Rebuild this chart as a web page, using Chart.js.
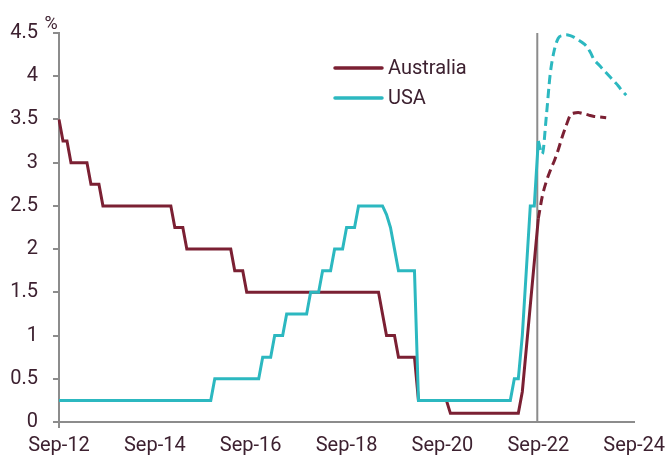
<!DOCTYPE html>
<html>
<head>
<meta charset="utf-8">
<script src="https://cdn.jsdelivr.net/npm/chart.js@4.4.1/dist/chart.umd.min.js"></script>
<style>
  html, body { margin: 0; padding: 0; background: #ffffff; }
  #wrap { width: 671px; height: 459px; }
</style>
</head>
<body>
<div id="wrap"><canvas id="chart" width="671" height="459"></canvas></div>
<script>
// Policy rates, monthly, Sep-12 onwards (per cent)
const monthNames = ['Jan','Feb','Mar','Apr','May','Jun','Jul','Aug','Sep','Oct','Nov','Dec'];
const firstYear = 2012, firstMonth = 8, monthCount = 145; // Sep-12 .. Sep-24
const months = [];
for (let i = 0; i < monthCount; i++) {
  const m = (firstMonth + i) % 12;
  const y = firstYear + Math.floor((firstMonth + i) / 12);
  months.push(monthNames[m] + '-' + String(y).slice(2));
}

const tickLabels = ['Sep-12', 'Sep-14', 'Sep-16', 'Sep-18', 'Sep-20', 'Sep-22', 'Sep-24'];
const forecastStart = 'Sep-22';

// Australia: RBA cash rate, Sep-12 .. Sep-22
const ausCashRate = [
  3.5, 3.25, 3.25, 3,                                        // 2012 (Sep-Dec)
  3, 3, 3, 3, 2.75, 2.75, 2.75, 2.5, 2.5, 2.5, 2.5, 2.5,     // 2013
  2.5, 2.5, 2.5, 2.5, 2.5, 2.5, 2.5, 2.5, 2.5, 2.5, 2.5, 2.5, // 2014
  2.5, 2.25, 2.25, 2.25, 2, 2, 2, 2, 2, 2, 2, 2,             // 2015
  2, 2, 2, 2, 1.75, 1.75, 1.75, 1.5, 1.5, 1.5, 1.5, 1.5,     // 2016
  1.5, 1.5, 1.5, 1.5, 1.5, 1.5, 1.5, 1.5, 1.5, 1.5, 1.5, 1.5, // 2017
  1.5, 1.5, 1.5, 1.5, 1.5, 1.5, 1.5, 1.5, 1.5, 1.5, 1.5, 1.5, // 2018
  1.5, 1.5, 1.5, 1.5, 1.5, 1.25, 1, 1, 1, 0.75, 0.75, 0.75,  // 2019
  0.75, 0.75, 0.25, 0.25, 0.25, 0.25, 0.25, 0.25, 0.25, 0.25, 0.1, 0.1, // 2020
  0.1, 0.1, 0.1, 0.1, 0.1, 0.1, 0.1, 0.1, 0.1, 0.1, 0.1, 0.1, // 2021
  0.1, 0.1, 0.1, 0.1, 0.35, 0.85, 1.35, 1.85, 2.35           // 2022 (Jan-Sep)
];

// USA: federal funds target (upper bound), Sep-12 .. Sep-22
const usFedFunds = [
  0.25, 0.25, 0.25, 0.25,                                                  // 2012 (Sep-Dec)
  0.25, 0.25, 0.25, 0.25, 0.25, 0.25, 0.25, 0.25, 0.25, 0.25, 0.25, 0.25,  // 2013
  0.25, 0.25, 0.25, 0.25, 0.25, 0.25, 0.25, 0.25, 0.25, 0.25, 0.25, 0.25,  // 2014
  0.25, 0.25, 0.25, 0.25, 0.25, 0.25, 0.25, 0.25, 0.25, 0.25, 0.25, 0.5,   // 2015
  0.5, 0.5, 0.5, 0.5, 0.5, 0.5, 0.5, 0.5, 0.5, 0.5, 0.5, 0.75,             // 2016
  0.75, 0.75, 1, 1, 1, 1.25, 1.25, 1.25, 1.25, 1.25, 1.25, 1.5,            // 2017
  1.5, 1.5, 1.75, 1.75, 1.75, 2, 2, 2, 2.25, 2.25, 2.25, 2.5,              // 2018
  2.5, 2.5, 2.5, 2.5, 2.5, 2.5, 2.4, 2.25, 2, 1.75, 1.75, 1.75,            // 2019
  1.75, 1.75, 0.25, 0.25, 0.25, 0.25, 0.25, 0.25, 0.25, 0.25, 0.25, 0.25,  // 2020
  0.25, 0.25, 0.25, 0.25, 0.25, 0.25, 0.25, 0.25, 0.25, 0.25, 0.25, 0.25,  // 2021
  0.25, 0.25, 0.5, 0.5, 1, 1.75, 2.5, 2.5, 3.25                            // 2022 (Jan-Sep)
];

// Market-implied paths, monthly from Sep-22
const ausForecast = [
  2.35, 2.61, 2.78, 2.91, 3.02, 3.15, 3.3, 3.43, 3.55,
  3.575, 3.58, 3.57, 3.56, 3.545, 3.535, 3.53, 3.525, 3.52
];
const usForecast = [
  3.25, 3.1, 3.53, 4.03, 4.3, 4.44, 4.47, 4.48, 4.47, 4.45, 4.42, 4.39,
  4.35, 4.28, 4.19, 4.14, 4.09, 4.04, 3.99, 3.94, 3.89, 3.83, 3.78
];

const MAROON = '#7b2033';
const TEAL = '#2cb8c0';
const AXIS = '#8c8c8c';
const TEXT = '#3d2130';
const FONT = 'Roboto, "Liberation Sans", sans-serif';

const startIdx = months.indexOf(forecastStart);
const lead = new Array(startIdx).fill(null);

// Vertical marker at the forecast start, drawn under the lines
const markerLine = {
  id: 'markerLine',
  beforeDatasetsDraw(chart) {
    const { ctx, chartArea, scales } = chart;
    const x = scales.x.getPixelForValue(startIdx);
    ctx.save();
    ctx.strokeStyle = AXIS;
    ctx.lineWidth = 2;
    ctx.beginPath();
    ctx.moveTo(x - 1, chartArea.top);
    ctx.lineTo(x - 1, chartArea.bottom);
    ctx.stroke();
    ctx.restore();
  }
};

// Unit label and the two-entry key
const annotations = {
  id: 'annotations',
  afterDraw(chart) {
    const { ctx, chartArea } = chart;
    ctx.save();
    ctx.fillStyle = TEXT;
    ctx.font = '18px ' + FONT;
    ctx.textAlign = 'center';
    ctx.textBaseline = 'middle';
    ctx.fillText('%', chartArea.left - 8, chartArea.top - 9);

    const keys = [
      { label: 'Australia', color: MAROON, y: 68 },
      { label: 'USA', color: TEAL, y: 98 }
    ];
    ctx.font = '20px ' + FONT;
    ctx.textAlign = 'left';
    keys.forEach(k => {
      ctx.strokeStyle = k.color;
      ctx.lineWidth = 3.5;
      ctx.lineCap = 'round';
      ctx.beginPath();
      ctx.moveTo(335, k.y);
      ctx.lineTo(382, k.y);
      ctx.stroke();
      ctx.fillStyle = TEXT;
      ctx.fillText(k.label, 388, k.y + 1);
    });
    ctx.restore();
  }
};

new Chart(document.getElementById('chart'), {
  type: 'line',
  data: {
    labels: months,
    datasets: [
      {
        label: 'USA',
        data: usFedFunds,
        borderColor: TEAL,
        borderWidth: 3,
        pointRadius: 0,
        tension: 0,
        order: 0
      },
      {
        label: 'USA forecast',
        data: lead.concat(usForecast),
        borderColor: TEAL,
        borderWidth: 3,
        borderDash: [9, 5],
        pointRadius: 0,
        cubicInterpolationMode: 'monotone',
        order: 1
      },
      {
        label: 'Australia',
        data: ausCashRate,
        borderColor: MAROON,
        borderWidth: 3,
        pointRadius: 0,
        tension: 0,
        order: 2
      },
      {
        label: 'Australia forecast',
        data: lead.concat(ausForecast),
        borderColor: MAROON,
        borderWidth: 3,
        borderDash: [9, 5],
        pointRadius: 0,
        cubicInterpolationMode: 'monotone',
        order: 3
      }
    ]
  },
  options: {
    responsive: false,
    animation: false,
    devicePixelRatio: 1,
    layout: { padding: { top: 33, right: 32, left: 0, bottom: 0 } },
    plugins: {
      legend: { display: false },
      tooltip: { enabled: false }
    },
    scales: {
      x: {
        type: 'category',
        offset: false,
        afterFit(scale) { scale.height = 37; },
        border: { display: true, color: AXIS, width: 2 },
        grid: {
          drawOnChartArea: false,
          drawTicks: true,
          tickLength: 6,
          lineWidth: 2,
          color: ctx => tickLabels.includes(months[ctx.index]) ? AXIS : 'rgba(0,0,0,0)'
        },
        ticks: {
          autoSkip: false,
          maxRotation: 0,
          minRotation: 0,
          padding: 6,
          color: TEXT,
          font: { family: FONT, size: 20 },
          callback: (value, index) => tickLabels.includes(months[index]) ? months[index] : null
        }
      },
      y: {
        min: 0,
        max: 4.5,
        afterFit(scale) { scale.width = 59; },
        border: { display: true, color: AXIS, width: 2 },
        grid: {
          drawOnChartArea: false,
          drawTicks: true,
          tickLength: 6,
          lineWidth: 2,
          color: AXIS
        },
        ticks: {
          stepSize: 0.5,
          padding: 15,
          color: TEXT,
          font: { family: FONT, size: 20 },
          callback: value => String(Math.round(value * 10) / 10)
        }
      }
    }
  },
  plugins: [markerLine, annotations]
});
</script>
</body>
</html>
